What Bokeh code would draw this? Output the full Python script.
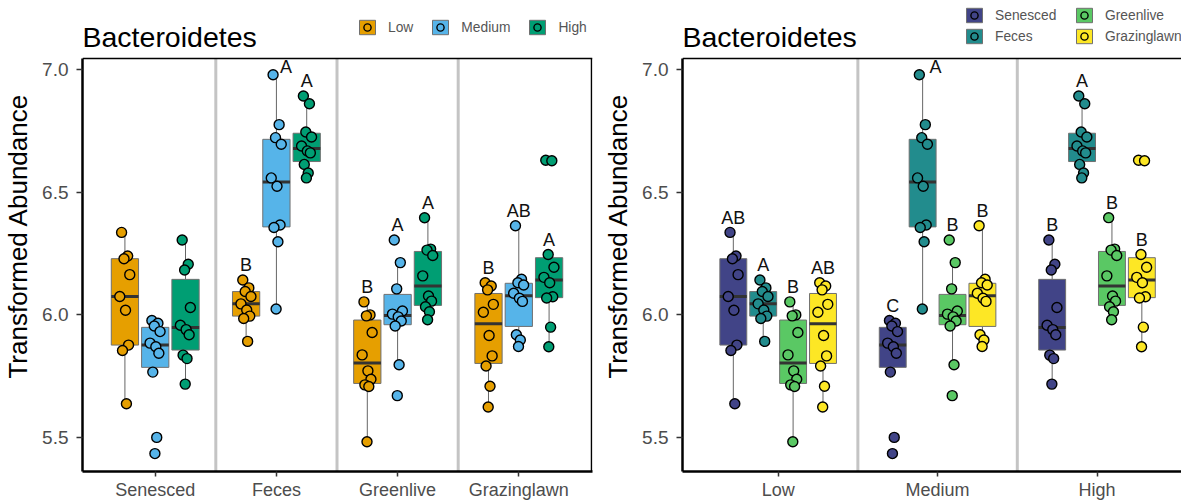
import numpy as np
from bokeh.plotting import figure
from bokeh.models import (ColumnDataSource, Range1d, FixedTicker, NumeralTickFormatter,
                          Legend, LegendItem)
from bokeh.layouts import row
from bokeh.embed import file_html
from bokeh.resources import INLINE
from bokeh.core.properties import value

FONT = "Liberation Sans"

sites = ["Senesced", "Feces", "Greenlive", "Grazinglawn"]
levels = ["Low", "Medium", "High"]

# transformed Bacteroidetes abundance per sample
senesced_low = [6.336, 6.240, 6.229, 6.164, 6.075, 6.019, 5.877, 5.855, 5.638]
senesced_medium = [5.977, 5.966, 5.955, 5.932, 5.885, 5.870, 5.844, 5.767, 5.501, 5.435]
senesced_high = [6.305, 6.206, 6.183, 6.030, 5.958, 5.940, 5.919, 5.836, 5.822, 5.718]
feces_low = [6.142, 6.110, 6.095, 6.075, 6.045, 6.020, 5.995, 5.985, 5.892]
feces_medium = [6.978, 6.775, 6.722, 6.695, 6.558, 6.524, 6.366, 6.356, 6.298, 6.024]
feces_high = [6.892, 6.860, 6.745, 6.725, 6.688, 6.668, 6.660, 6.613, 6.578, 6.558]
greenlive_low = [6.053, 6.000, 5.996, 5.928, 5.837, 5.772, 5.738, 5.715, 5.708, 5.483]
greenlive_medium = [6.305, 6.213, 6.106, 6.016, 6.003, 5.992, 5.975, 5.955, 5.797, 5.671]
greenlive_high = [6.396, 6.268, 6.264, 6.242, 6.159, 6.077, 6.056, 6.033, 6.013, 5.980]
grazinglawn_low = [6.131, 6.118, 6.102, 6.043, 6.011, 5.916, 5.833, 5.792, 5.709, 5.625]
grazinglawn_medium = [6.363, 6.145, 6.131, 6.122, 6.088, 6.068, 6.055, 5.919, 5.898, 5.871]
grazinglawn_high = [6.630, 6.628, 6.246, 6.194, 6.153, 6.131, 6.074, 6.069, 5.950, 5.870]

abundance = {
    ("Senesced", "Low"): senesced_low,
    ("Senesced", "Medium"): senesced_medium,
    ("Senesced", "High"): senesced_high,
    ("Feces", "Low"): feces_low,
    ("Feces", "Medium"): feces_medium,
    ("Feces", "High"): feces_high,
    ("Greenlive", "Low"): greenlive_low,
    ("Greenlive", "Medium"): greenlive_medium,
    ("Greenlive", "High"): greenlive_high,
    ("Grazinglawn", "Low"): grazinglawn_low,
    ("Grazinglawn", "Medium"): grazinglawn_medium,
    ("Grazinglawn", "High"): grazinglawn_high,
}

# compact letter displays (Low, Medium, High within each site)
letters_senesced = ["", "", ""]
letters_feces = ["B", "A", "A"]
letters_greenlive = ["B", "A", "A"]
letters_grazinglawn = ["B", "AB", "A"]
# (Senesced, Feces, Greenlive, Grazinglawn within each level)
letters_low = ["AB", "A", "B", "AB"]
letters_medium = ["C", "A", "B", "B"]
letters_high = ["B", "A", "B", "B"]

letters_by_site = dict(zip(sites, [letters_senesced, letters_feces,
                                   letters_greenlive, letters_grazinglawn]))
letters_by_level = dict(zip(levels, [letters_low, letters_medium, letters_high]))

level_colors = ["#E69F00", "#56B4E9", "#009E73"]
site_colors = ["#414487", "#228C8D", "#5AC864", "#FDE725"]

y_ticks = [5.5, 6.0, 6.5, 7.0]
Y_LO, Y_HI = 5.362, 7.045

# canvas geometry (px): the title/key strip sits above the plotting box
HEIGHT = 502
BOX_TOP = 58
BOTTOM_BORDER = 30
PPU_Y = (HEIGHT - BOTTOM_BORDER - BOX_TOP) / (Y_HI - Y_LO)
TITLE_BASELINE = 37  # px from the top of the canvas

# fixed horizontal scatter pattern for the points (fraction of the jitter half-width)
JITTER = [-0.55, 0.45, -0.15, 0.8, -0.85, 0.1, 0.6, -0.4, 0.25, -0.05]


def box_stats(v):
    v = np.asarray(v)
    q1, med, q3 = np.percentile(v, [25, 50, 75])
    iqr = q3 - q1
    lo = v[v >= q1 - 1.5 * iqr].min()
    hi = v[v <= q3 + 1.5 * iqr].max()
    return q1, med, q3, lo, hi


def letter_anchor(v):
    # upper whisker from Tukey hinges
    s = np.sort(np.asarray(v))
    n = len(s)
    n4 = np.floor((n + 3) / 2) / 2
    lo_h = 0.5 * (s[int(np.floor(n4)) - 1] + s[int(np.ceil(n4)) - 1])
    hi_h = 0.5 * (s[int(np.floor(n + 1 - n4)) - 1] + s[int(np.ceil(n + 1 - n4)) - 1])
    return s[s <= hi_h + 1.5 * (hi_h - lo_h)].max()


def style_axes(p):
    for ax in (p.xaxis[0], p.yaxis[0]):
        ax.axis_line_color = "black"
        ax.axis_line_width = 2.5
        ax.major_tick_line_color = "#333333"
        ax.major_tick_line_width = 1.5
        ax.major_tick_in = 0
        ax.minor_tick_line_color = None
        ax.major_label_text_font = FONT
        ax.major_label_text_color = "#4D4D4D"
    p.xaxis.major_tick_out = 5
    p.xaxis.major_label_standoff = 3
    p.xaxis.major_label_text_font_size = "18px"
    p.yaxis.major_tick_out = 6
    p.yaxis.major_label_standoff = 8
    p.yaxis.major_label_text_font_size = "19px"
    p.yaxis.bounds = (Y_LO, Y_HI)
    p.yaxis.axis_label = "Transformed Abundance"
    p.yaxis.axis_label_text_font = FONT
    p.yaxis.axis_label_text_font_size = "26px"
    p.yaxis.axis_label_text_font_style = "normal"
    p.yaxis.axis_label_text_color = "black"
    p.yaxis.axis_label_standoff = 6
    p.yaxis.ticker = FixedTicker(ticks=y_ticks)
    p.yaxis.formatter = NumeralTickFormatter(format="0.0")


def make_panel(cats, groups, colors, get_vals, get_letters, width, left_border,
               right_border, x_hi, closed_right, legend_cols, legend_x, legend_bottom,
               legend_spacing):
    n = len(groups)
    step = 0.75 / n
    bw = 0.9 * step
    jit = 0.2 * step

    frame_w = width - left_border - right_border
    ppu_x = frame_w / (x_hi - 0.4)
    x_end = x_hi + (1.0 / ppu_x if closed_right else 0.0)
    ppu_x = frame_w / (x_end - 0.4)
    y_end = Y_HI + BOX_TOP / PPU_Y

    p = figure(width=width, height=HEIGHT, output_backend="svg", toolbar_location=None,
               x_range=Range1d(0.4, x_end), y_range=Range1d(Y_LO, y_end),
               min_border_left=left_border, min_border_right=right_border,
               min_border_top=0, min_border_bottom=BOTTOM_BORDER,
               background_fill_color="white", border_fill_color="white",
               outline_line_color=None)
    p.xgrid.visible = False
    p.ygrid.visible = False

    style_axes(p)
    p.xaxis.ticker = FixedTicker(ticks=list(range(1, len(cats) + 1)))
    p.xaxis.major_label_overrides = {i + 1: c for i, c in enumerate(cats)}

    # category separators
    seps = [k + 0.5 for k in range(1, len(cats))]
    p.segment(x0=seps, y0=[Y_LO] * len(seps), x1=seps, y1=[Y_HI] * len(seps),
              line_color="#C4C4C4", line_width=3)

    # top (and right) edges of the plotting box
    p.segment(x0=[0.4], y0=[Y_HI], x1=[x_end], y1=[Y_HI], line_color="black",
              line_width=1.5)
    if closed_right:
        p.segment(x0=[x_hi], y0=[Y_LO], x1=[x_hi], y1=[Y_HI], line_color="black",
                  line_width=1.5)

    box_renderers, point_renderers = [], []
    for gi, g in enumerate(groups):
        off = (gi - (n - 1) / 2) * step
        d = dict(x=[], q1=[], med=[], q3=[], lo=[], hi=[], left=[], right=[])
        for ci, c in enumerate(cats):
            q1, med, q3, lo, hi = box_stats(get_vals(c, g))
            x = ci + 1 + off
            for key, val in zip(["x", "q1", "med", "q3", "lo", "hi", "left", "right"],
                                [x, q1, med, q3, lo, hi, x - bw / 2, x + bw / 2]):
                d[key].append(val)
        src = ColumnDataSource(d)
        p.segment(x0="x", y0="q3", x1="x", y1="hi", line_color="#666666",
                  line_width=1, source=src)
        p.segment(x0="x", y0="q1", x1="x", y1="lo", line_color="#666666",
                  line_width=1, source=src)
        r = p.vbar(x="x", width=bw, top="q3", bottom="q1", fill_color=colors[gi],
                   line_color="#707070", line_width=1, source=src)
        p.segment(x0="left", y0="med", x1="right", y1="med", line_color="#333333",
                  line_width=3, source=src)
        box_renderers.append(r)

    for gi, g in enumerate(groups):
        off = (gi - (n - 1) / 2) * step
        xs, ys = [], []
        for ci, c in enumerate(cats):
            for j, v in enumerate(get_vals(c, g)):
                xs.append(ci + 1 + off + JITTER[j % len(JITTER)] * jit)
                ys.append(v)
        r = p.scatter(x=xs, y=ys, size=10, fill_color=colors[gi], line_color="black",
                      line_width=1.4)
        point_renderers.append(r)

    lx, ly, lt = [], [], []
    for ci, c in enumerate(cats):
        for gi, g in enumerate(groups):
            txt = get_letters(c)[gi]
            if not txt:
                continue
            off = (gi - (n - 1) / 2) * step
            y = letter_anchor(get_vals(c, g)) + 0.06
            x = ci + 1 + off
            if y > 7.008:
                y = 7.008
                x += 0.08
            lx.append(x)
            ly.append(y)
            lt.append(txt)
    p.text(x=lx, y=ly, text=lt, text_font=value(FONT), text_font_size="18px",
           text_align="center", text_baseline="middle", text_color="#111111")

    # panel title in the strip above the box
    p.text(x=[0.4], y=[y_end - TITLE_BASELINE / PPU_Y],
           text=["Bacteroidetes"], text_font=value(FONT), text_font_size="28.5px",
           text_align="left", text_baseline="alphabetic", text_color="black")

    frame_h = HEIGHT - BOTTOM_BORDER
    horizontal = len(legend_cols) == 1
    for col_i, members in enumerate(legend_cols):
        items = [LegendItem(label=groups[m],
                            renderers=[box_renderers[m], point_renderers[m]])
                 for m in members]
        # legend_x is measured from this figure's own left edge
        leg = Legend(items=items,
                     location=(legend_x[col_i] - 2 - left_border,
                               frame_h - legend_bottom),
                     orientation="horizontal" if horizontal else "vertical",
                     glyph_width=20, glyph_height=18, label_height=16,
                     label_standoff=11, spacing=legend_spacing,
                     padding=0, margin=0, border_line_color=None,
                     background_fill_alpha=0, label_text_font=FONT,
                     label_text_font_size="13.8px", label_text_color="#555555")
        p.add_layout(leg)
    return p


left = make_panel(sites, levels, level_colors,
                  lambda c, g: abundance[(c, g)],
                  lambda c: letters_by_site[c],
                  width=600, left_border=78, right_border=8, x_hi=4.6,
                  closed_right=True, legend_cols=[[0, 1, 2]], legend_x=[355],
                  legend_bottom=37, legend_spacing=17)

right = make_panel(levels, sites, site_colors,
                   lambda c, g: abundance[(g, c)],
                   lambda c: letters_by_level[c],
                   width=581, left_border=80, right_border=0, x_hi=3.53,
                   closed_right=False, legend_cols=[[0, 1], [2, 3]],
                   legend_x=[364, 474], legend_bottom=46, legend_spacing=3)

layout = row(left, right)
open("out.html", "w").write(file_html(layout, INLINE))
